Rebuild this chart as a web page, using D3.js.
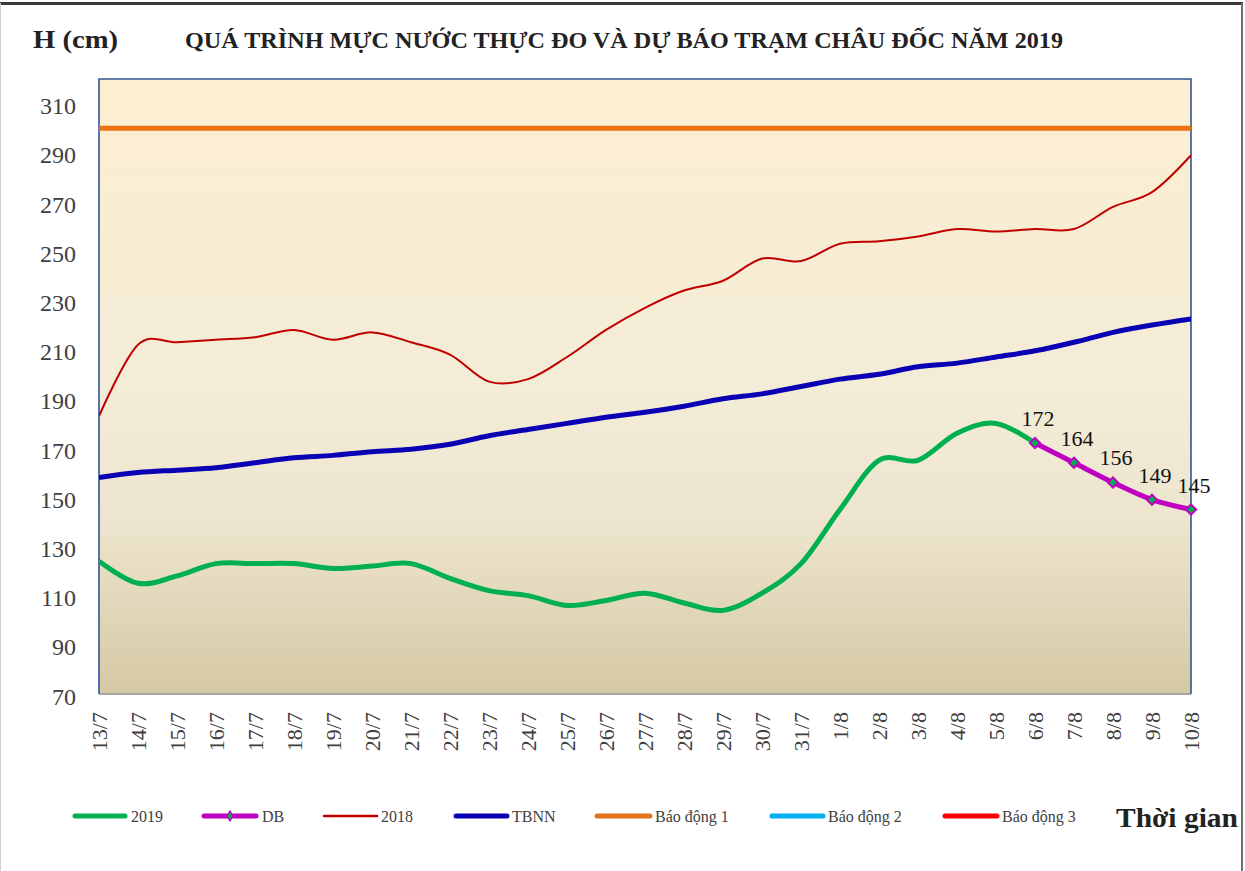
<!DOCTYPE html>
<html>
<head>
<meta charset="utf-8">
<script src="https://cdn.jsdelivr.net/npm/d3@7"></script>
<style>
  html, body { margin: 0; padding: 0; background: #fff; }
  svg { display: block; font-family: "Liberation Serif", "Times New Roman", serif; }
</style>
</head>
<body>
<div id="chart"></div>
<script>
/* ===== DATA ===== */
const dates = ["13/7", "14/7", "15/7", "16/7", "17/7", "18/7", "19/7", "20/7", "21/7", "22/7",
    "23/7", "24/7", "25/7", "26/7", "27/7", "28/7", "29/7", "30/7", "31/7", "1/8",
    "2/8", "3/8", "4/8", "5/8", "6/8", "7/8", "8/8", "9/8", "10/8"];

// 2019 observed, 13/7 -> 6/8
const obs2019 = [124, 115, 118, 123, 123, 123, 121, 122, 123, 117,
    112, 110, 106, 108, 111, 107, 104, 111, 123, 145,
    165, 165, 176, 180, 172];

// forecast, 6/8 -> 10/8
const forecastDates = ["6/8", "7/8", "8/8", "9/8", "10/8"];
const forecast = [172, 164, 156, 149, 145];

const y2018 = [183, 212, 213, 214, 215, 218, 214, 217, 213, 208,
    197, 198, 207, 218, 227, 234, 238, 247, 246, 253,
    254, 256, 259, 258, 259, 259, 268, 274, 289];

const tbnn = [158, 160, 161, 162, 164, 166, 167, 168.5, 169.5, 171.5,
    175, 177.5, 180, 182.5, 184.5, 187, 190, 192, 195, 198,
    200, 203, 204.5, 207, 209.5, 213, 217, 220, 222.5];

const alarmLevels = [300, 350, 400];
const yTicks = [70, 90, 110, 130, 150, 170, 190, 210, 230, 250, 270, 290, 310];

const colors = {
    obs: "#00B050",
    db: "#C000C0",
    y2018: "#C00000",
    tbnn: "#0A00B4",
    alarm: ["#E87214", "#00B0F0", "#FF0000"]
};

/* ===== DIMENSIONS ===== */
const width = 1245;
const height = 871;
const plot = { left: 99, right: 1191, top: 79, bottom: 694 };

const svg = d3.select("#chart")
    .append("svg")
    .attr("width", width)
    .attr("height", height);

/* ===== SCALES ===== */
const x = d3.scalePoint().domain(dates).range([plot.left, plot.right]);
const y = d3.scaleLinear().domain([70, 320]).range([plot.bottom, plot.top]);

/* ===== OUTER FRAME ===== */
svg.append("line")
    .attr("x1", 0).attr("x2", 1243).attr("y1", 3.5).attr("y2", 3.5)
    .attr("stroke", "#3a3a3a").attr("stroke-width", 3);
svg.append("line")
    .attr("x1", 1242).attr("x2", 1242).attr("y1", 3).attr("y2", height)
    .attr("stroke", "#6f6f6f").attr("stroke-width", 2);
svg.append("line")
    .attr("x1", 0.5).attr("x2", 0.5).attr("y1", 3).attr("y2", height)
    .attr("stroke", "#d0d0d0").attr("stroke-width", 1);

/* ===== PLOT BACKGROUND ===== */
const defs = svg.append("defs");
const grad = defs.append("linearGradient")
    .attr("id", "bg")
    .attr("x1", 0).attr("x2", 0).attr("y1", 0).attr("y2", 1);
grad.append("stop").attr("offset", "0%").attr("stop-color", "#FDEED0");
grad.append("stop").attr("offset", "50%").attr("stop-color", "#F3ECD7");
grad.append("stop").attr("offset", "72%").attr("stop-color", "#EDE5CE");
grad.append("stop").attr("offset", "100%").attr("stop-color", "#D5C8A4");

defs.append("clipPath").attr("id", "plotClip")
    .append("rect")
    .attr("x", plot.left).attr("y", plot.top)
    .attr("width", plot.right - plot.left)
    .attr("height", plot.bottom - plot.top);

svg.append("rect")
    .attr("x", plot.left).attr("y", plot.top)
    .attr("width", plot.right - plot.left)
    .attr("height", plot.bottom - plot.top)
    .attr("fill", "url(#bg)");

/* ===== TITLES ===== */
svg.append("text")
    .attr("x", 33).attr("y", 48)
    .attr("font-size", 26).attr("font-weight", "bold")
    .attr("textLength", 85).attr("lengthAdjust", "spacingAndGlyphs")
    .attr("fill", "#222")
    .text("H (cm)");

svg.append("text")
    .attr("x", 185).attr("y", 48)
    .attr("font-size", 23).attr("font-weight", "bold")
    .attr("textLength", 878).attr("lengthAdjust", "spacingAndGlyphs")
    .attr("fill", "#222")
    .text("QUÁ TRÌNH MỰC NƯỚC THỰC ĐO VÀ DỰ BÁO TRẠM CHÂU ĐỐC NĂM  2019");

/* ===== AXES ===== */
const yAxis = svg.append("g")
    .attr("transform", `translate(${plot.left},0)`)
    .call(d3.axisLeft(y).tickValues(yTicks).tickSize(0).tickPadding(23));
yAxis.select(".domain").remove();
yAxis.selectAll("text")
    .attr("font-family", "Liberation Serif, serif")
    .attr("font-size", 24)
    .attr("fill", "#404040")
    .attr("dy", "0.42em");

const xAxis = svg.append("g")
    .attr("transform", `translate(0,${plot.bottom})`)
    .call(d3.axisBottom(x).tickSize(0));
xAxis.select(".domain").remove();
xAxis.selectAll("text")
    .attr("font-family", "Liberation Serif, serif")
    .attr("font-size", 22)
    .attr("fill", "#404040")
    .attr("text-anchor", "end")
    .attr("transform", "rotate(-90)")
    .attr("x", -18)
    .attr("y", 0)
    .attr("dy", "0.35em");

/* ===== PLOT BORDER ===== */
svg.append("line")
    .attr("x1", plot.left).attr("x2", plot.right)
    .attr("y1", plot.bottom).attr("y2", plot.bottom)
    .attr("stroke", "#A6A6A6").attr("stroke-width", 2);
svg.append("path")
    .attr("d", `M${plot.left},${plot.bottom}V${plot.top}H${plot.right}V${plot.bottom}`)
    .attr("fill", "none")
    .attr("stroke", "#2F5597").attr("stroke-width", 1.6);

/* ===== SERIES ===== */
const lineGen = d3.line()
    .x((d) => x(d.date))
    .y((d) => y(d.value))
    .curve(d3.curveCardinal.tension(0));

const series = svg.append("g").attr("clip-path", "url(#plotClip)");

alarmLevels.forEach((level, i) => {
    series.append("line")
        .attr("x1", plot.left).attr("x2", plot.right)
        .attr("y1", y(level)).attr("y2", y(level))
        .attr("stroke", colors.alarm[i])
        .attr("stroke-width", 5);
});

const mk = (labels, values) => values.map((v, i) => ({ date: labels[i], value: v }));

series.append("path")
    .datum(mk(dates, y2018))
    .attr("d", lineGen)
    .attr("fill", "none")
    .attr("stroke", colors.y2018)
    .attr("stroke-width", 2);

series.append("path")
    .datum(mk(dates, tbnn))
    .attr("d", lineGen)
    .attr("fill", "none")
    .attr("stroke", colors.tbnn)
    .attr("stroke-width", 5)
    .attr("stroke-linejoin", "round");

series.append("path")
    .datum(mk(dates, obs2019))
    .attr("d", lineGen)
    .attr("fill", "none")
    .attr("stroke", colors.obs)
    .attr("stroke-width", 5)
    .attr("stroke-linejoin", "round");

const dbData = mk(forecastDates, forecast);

svg.append("path")
    .datum(dbData)
    .attr("d", lineGen)
    .attr("fill", "none")
    .attr("stroke", colors.db)
    .attr("stroke-width", 5)
    .attr("stroke-linejoin", "round");

// square turned 45deg, like the Excel diamond marker
const diamond = d3.symbol().type(d3.symbolSquare).size(52);

svg.append("g")
    .selectAll("path")
    .data(dbData)
    .enter()
    .append("path")
    .attr("d", diamond)
    .attr("transform", (d) => `translate(${x(d.date)},${y(d.value)}) rotate(45)`)
    .attr("fill", colors.obs)
    .attr("stroke", colors.db)
    .attr("stroke-width", 2);

svg.append("g")
    .selectAll("text")
    .data(dbData)
    .enter()
    .append("text")
    .attr("x", (d) => x(d.date) + 3)
    .attr("y", (d) => y(d.value) - 17)
    .attr("text-anchor", "middle")
    .attr("font-size", 22)
    .attr("fill", "#111")
    .text((d) => d.value);

/* ===== LEGEND ===== */
const legendItems = [
    { label: "2019", color: colors.obs, x1: 75, x2: 125, w: 5, tx: 131 },
    { label: "DB", color: colors.db, x1: 204, x2: 256, w: 5, tx: 262, marker: true },
    { label: "2018", color: colors.y2018, x1: 324, x2: 377, w: 2.5, tx: 381 },
    { label: "TBNN", color: colors.tbnn, x1: 456, x2: 507, w: 5, tx: 512 },
    { label: "Báo động 1", color: colors.alarm[0], x1: 597, x2: 650, w: 5, tx: 655 },
    { label: "Báo động 2", color: colors.alarm[1], x1: 772, x2: 823, w: 5, tx: 828 },
    { label: "Báo động 3", color: colors.alarm[2], x1: 945, x2: 997, w: 5, tx: 1002 }
];

const legend = svg.append("g");
const legendY = 816;

legendItems.forEach((item) => {
    legend.append("line")
        .attr("x1", item.x1).attr("x2", item.x2)
        .attr("y1", legendY).attr("y2", legendY)
        .attr("stroke", item.color)
        .attr("stroke-width", item.w)
        .attr("stroke-linecap", "round");
    if (item.marker) {
        legend.append("path")
            .attr("d", d3.symbol().type(d3.symbolDiamond).size(30))
            .attr("transform", `translate(${(item.x1 + item.x2) / 2},${legendY})`)
            .attr("fill", colors.obs)
            .attr("stroke", colors.db)
            .attr("stroke-width", 1.2);
    }
    legend.append("text")
        .attr("x", item.tx).attr("y", legendY + 6)
        .attr("font-size", 16)
        .attr("fill", "#404040")
        .text(item.label);
});

svg.append("text")
    .attr("x", 1116).attr("y", 827)
    .attr("font-size", 28).attr("font-weight", "bold")
    .attr("textLength", 122).attr("lengthAdjust", "spacingAndGlyphs")
    .attr("fill", "#222")
    .text("Thời gian");
</script>
</body>
</html>
